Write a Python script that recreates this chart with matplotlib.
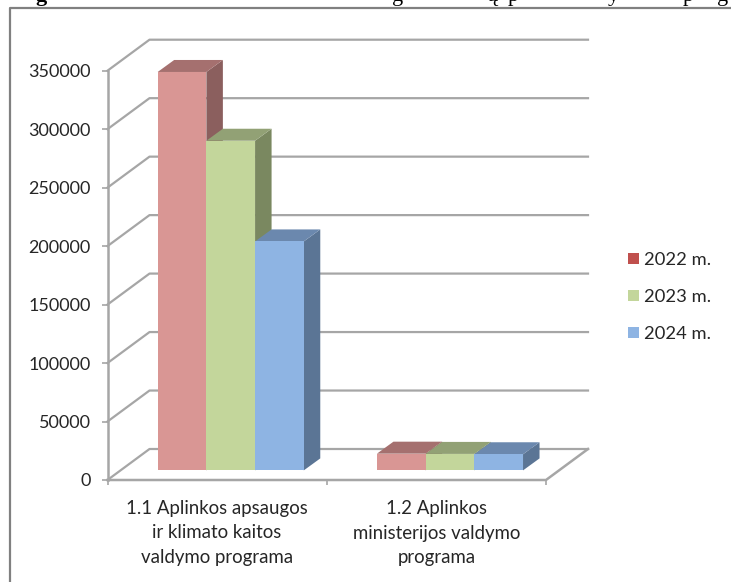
# 3D style clustered column chart, drawn on a flat axes with projected faces
import matplotlib
matplotlib.use('Agg')
import matplotlib.pyplot as plt
from matplotlib.lines import Line2D
from matplotlib.patches import Patch

W, H = 731, 582

categories = ['1.1 Aplinkos apsaugos\nir klimato kaitos\nvaldymo programa',
              '1.2 Aplinkos\nministerijos valdymo\nprograma']
years = ['2022 m.', '2023 m.', '2024 m.']
values_2022 = [340700, 14300]
values_2023 = [281900, 14100]
values_2024 = [195800, 13800]
yticks = [0, 50000, 100000, 150000, 200000, 250000, 300000, 350000]

front_colors = ['#D99694', '#C3D69B', '#8EB4E3']
top_colors = ['#A5706F', '#92A175', '#6B88AE']
side_colors = ['#8B5F5E', '#7A8860', '#5B7595']
legend_colors = ['#C0504D', '#C3D69B', '#8EB4E3']
grid_color = '#A6A6A6'
text_color = '#262626'

plt.rcParams['font.family'] = ['Lato', 'DejaVu Sans']

fig = plt.figure(figsize=(W / 100, H / 100), dpi=100)
fig.patch.set_facecolor('white')

# axes = the front plane of the 3D box
left, right, bottom, top = 107.5, 546, 480, 70.7
ax = fig.add_axes([left / W, 1 - bottom / H, (right - left) / W, (bottom - top) / H])
ax.set_xlim(0, 2)
ax.set_ylim(0, 350000)
ax.patch.set_visible(False)
for s in ax.spines.values():
    s.set_visible(False)

# pixel offsets to data units
ux = 2 / (right - left)
uy = 350000 / (bottom - top)
wall_dx, wall_dy = 42 * ux, 31 * uy
lift_dx, lift_dy = 13.6 * ux, 9.6 * uy
bar_dx, bar_dy = 16.5 * ux, 12 * uy
bar_w = 48.7 * ux

# walls
for v in yticks:
    ax.plot([0, wall_dx, 2 + wall_dx], [v, v + wall_dy, v + wall_dy],
            color=grid_color, lw=1.6, clip_on=False, zorder=1)
ax.plot([0, 2, 2 + wall_dx], [0, 0, wall_dy], color=grid_color, lw=1.8, clip_on=False, zorder=1)
ax.plot([0, 0], [0, 350000], color=grid_color, lw=1.8, clip_on=False, zorder=1)

# bars, back faces first so neighbours overlap properly
series = [values_2022, values_2023, values_2024]
for j, vals in enumerate(series):
    for i, v in enumerate(vals):
        x0 = i + 0.5 + lift_dx + (j - 1.5) * bar_w
        x1 = x0 + bar_w
        y1 = lift_dy + v
        ax.fill([x1, x1 + bar_dx, x1 + bar_dx, x1],
                [lift_dy, lift_dy + bar_dy, y1 + bar_dy, y1],
                color=side_colors[j], lw=0, clip_on=False, zorder=3 + j)
        ax.fill([x0, x1, x1 + bar_dx, x0 + bar_dx],
                [y1, y1, y1 + bar_dy, y1 + bar_dy],
                color=top_colors[j], lw=0, clip_on=False, zorder=3 + j)
    xs = [i + 0.5 + lift_dx + (j - 1) * bar_w for i in range(2)]
    ax.bar(xs, vals, bar_w, bottom=lift_dy, color=front_colors[j], lw=0,
           clip_on=False, zorder=3 + j)

ax.set_yticks(yticks)
ax.set_xticks([0, 1, 2])
ax.set_xticklabels([])
ax.tick_params(axis='y', length=4.2, width=1.2, color=grid_color, pad=8,
               labelsize=13, labelcolor=text_color)
ax.tick_params(axis='x', length=3.6, width=1.2, color=grid_color)

for i, cat in enumerate(categories):
    fig.text((left + (i + 0.5) * (right - left) / 2) / W, 1 - 533 / H, cat, ha='center', va='center',
             fontsize=13.4, color=text_color, linespacing=1.56)

handles = [Patch(facecolor=c, edgecolor='none') for c in legend_colors]
fig.legend(handles, years, loc='center left', bbox_to_anchor=(628 / W, 1 - 297 / H),
           frameon=False, fontsize=13.2, labelcolor=text_color, handlelength=0.58, handleheight=0.58,
           handletextpad=0.3, labelspacing=1.14, borderpad=0, borderaxespad=0)

# outer frame of the pasted picture
fig.add_artist(Line2D([10 / W, 10 / W, 1], [0, 1 - 8 / H, 1 - 8 / H], color='#808080', lw=1.6))

# bottom edge of the caption line cropped by the top of the image
for ch, px in [('g', 41), ('g', 398), ('ų', 492), ('p', 513), ('y', 613), ('p', 688), ('g', 723)]:
    fig.text(px / W, 1 - 1.5 / H, ch, ha='center', va='baseline', fontsize=16,
             fontweight='bold' if px < 100 else 'normal', color='black',
             family=['Liberation Serif', 'DejaVu Serif'])

fig.savefig('out.png', dpi=100)
